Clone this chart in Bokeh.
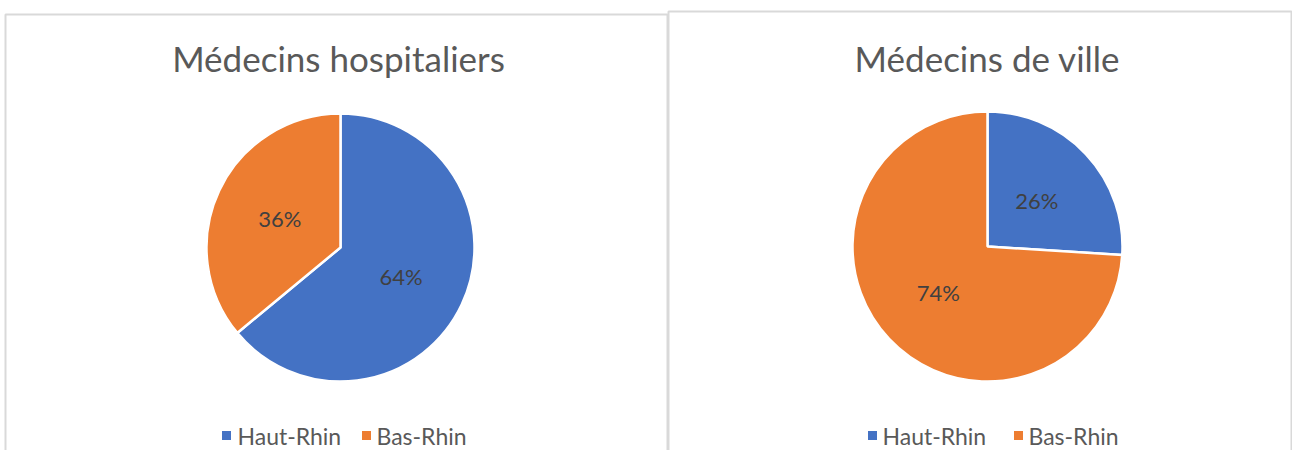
import math
from bokeh.plotting import figure
from bokeh.models import Range1d, ColumnDataSource
from bokeh.core.properties import value
from bokeh.embed import file_html
from bokeh.resources import INLINE

# ---- data ----
categories = ["Haut-Rhin", "Bas-Rhin"]
hospitaliers = [64, 36]
ville = [26, 74]
titles = ["Médecins hospitaliers", "Médecins de ville"]
colors = ["#4472C4", "#ED7D31"]

FONT = "Lato"
W, H = 1292, 450

def Y(py):
    # picture pixel y (from top) -> data y
    return H - py

p = figure(width=W, height=H, output_backend="svg", toolbar_location=None,
           x_range=Range1d(0, W), y_range=Range1d(0, H), min_border=0)
p.axis.visible = False
p.grid.visible = False
p.outline_line_color = None
p.background_fill_color = "white"
p.border_fill_color = "white"

# panel frames
border = "#D9D9D9"
p.multi_line(xs=[[5, 5, 667, 667], [668, 668, 1291, 1291]],
             ys=[[Y(470), Y(14), Y(14), Y(470)], [Y(470), Y(11), Y(11), Y(470)]],
             line_color=border, line_width=2)

panels = [
    dict(vals=hospitaliers, cx=340, cy=247, r=134, title=titles[0], tx=338,
         leg=[(226, 237), (366, 376)]),
    dict(vals=ville, cx=987, cy=246, r=135, title=titles[1], tx=987,
         leg=[(872, 882), (1018, 1028)]),
]

for pn in panels:
    vals = pn["vals"]
    total = float(sum(vals))
    starts, ends, lx, ly, labels = [], [], [], [], []
    cum = 0.0
    for v in vals:
        a0 = math.pi / 2 - 2 * math.pi * cum / total
        a1 = math.pi / 2 - 2 * math.pi * (cum + v) / total
        starts.append(a0)
        ends.append(a1)
        mid = (a0 + a1) / 2
        lx.append(pn["cx"] + 0.5 * pn["r"] * math.cos(mid))
        ly.append(Y(pn["cy"]) + 0.5 * pn["r"] * math.sin(mid))
        labels.append(f"{v}%")
        cum += v
    src = ColumnDataSource(dict(start=starts, end=ends, color=colors[:len(vals)]))
    p.wedge(x=pn["cx"], y=Y(pn["cy"]), radius=pn["r"], radius_units="screen",
            start_angle="start", end_angle="end", direction="clock",
            fill_color="color", line_color="white", line_width=2.5, source=src)
    p.text(x=lx, y=ly, text=labels, text_font=value(FONT), text_font_size="22px",
           text_color="#404040", text_align="center", text_baseline="middle")
    p.text(x=[pn["tx"]], y=[Y(57)], text=[pn["title"]], text_font=value(FONT),
           text_font_size="35px", text_color="#595959", text_align="center",
           text_baseline="middle")
    for (sx, tx), cat, col in zip(pn["leg"], categories, colors):
        p.scatter(x=[sx], y=[Y(435)], marker="square", size=9, fill_color=col,
                  line_color=None)
        p.text(x=[tx], y=[Y(435)], text=[cat], text_font=value(FONT),
               text_font_size="23px", text_color="#595959", text_align="left",
               text_baseline="middle")

open("out.html", "w").write(file_html(p, INLINE))
